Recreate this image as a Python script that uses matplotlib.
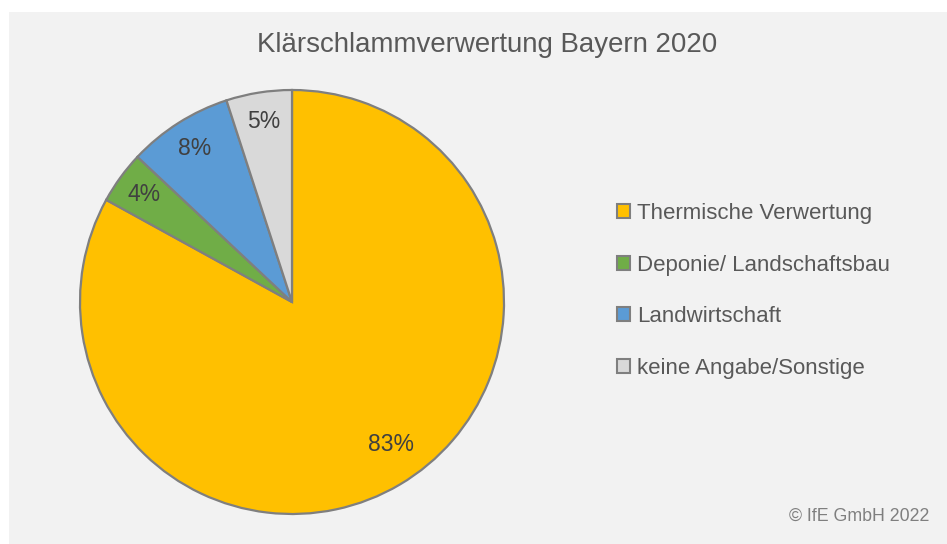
import matplotlib.pyplot as plt
from matplotlib.patches import Rectangle, Patch

labels = ["Thermische Verwertung", "Deponie/ Landschaftsbau",
          "Landwirtschaft", "keine Angabe/Sonstige"]
shares = [83, 4, 8, 5]
colors = ["#FFC000", "#70AD47", "#5B9BD5", "#D9D9D9"]

plt.rcParams["font.family"] = ["Liberation Sans", "DejaVu Sans"]
W, H = 947, 544

fig = plt.figure(figsize=(W / 100, H / 100), dpi=100, facecolor="white")
fig.patches.append(Rectangle((9 / W, 0), 1 - 9 / W, (H - 12) / H,
                             transform=fig.transFigure, facecolor="#F2F2F2",
                             edgecolor="none", zorder=-5))

# pie centre at (292, 302) px, radius 212 px
cx, cy, r = 292, H - 302, 212
ax = fig.add_axes([(cx - r) / W, (cy - r) / H, 2 * r / W, 2 * r / H], zorder=2)
wedges, texts = ax.pie(shares, colors=colors, startangle=90, counterclock=False,
                       labels=[f"{v}%" for v in shares], labeldistance=0.86,
                       wedgeprops=dict(edgecolor="#7F7F7F", linewidth=1.6))
for t in texts:
    t.set_ha("center")
    t.set_va("center")
    t.set_fontsize(16.5)
    t.set_color("#404040")
# big slice label sits a bit further towards the centre line, like Excel does
x0, y0 = texts[0].get_position()
texts[0].set_position((x0 + 0.03, y0 + 0.07))
ax.set_xlim(-1, 1)
ax.set_ylim(-1, 1)
ax.set_aspect("equal")
ax.axis("off")

fig.text(487 / W, 1 - 45 / H, "Klärschlammverwertung Bayern 2020",
         ha="center", va="center", fontsize=19.9, color="#595959")

handles = [Patch(facecolor=c, edgecolor="#7F7F7F", linewidth=1.5) for c in colors]
fig.legend(handles, labels, loc="upper left", bbox_to_anchor=(608 / W, 1 - 194 / H),
           frameon=False, fontsize=16, labelcolor="#595959",
           handlelength=0.6, handleheight=0.6, handletextpad=0.3,
           labelspacing=1.38, borderaxespad=0)

fig.text(929 / W, 1 - 516 / H, "© IfE GmbH 2022", ha="right", va="center",
         fontsize=12.8, color="#7F7F7F")

fig.savefig("out.png", dpi=100, facecolor=fig.get_facecolor())
